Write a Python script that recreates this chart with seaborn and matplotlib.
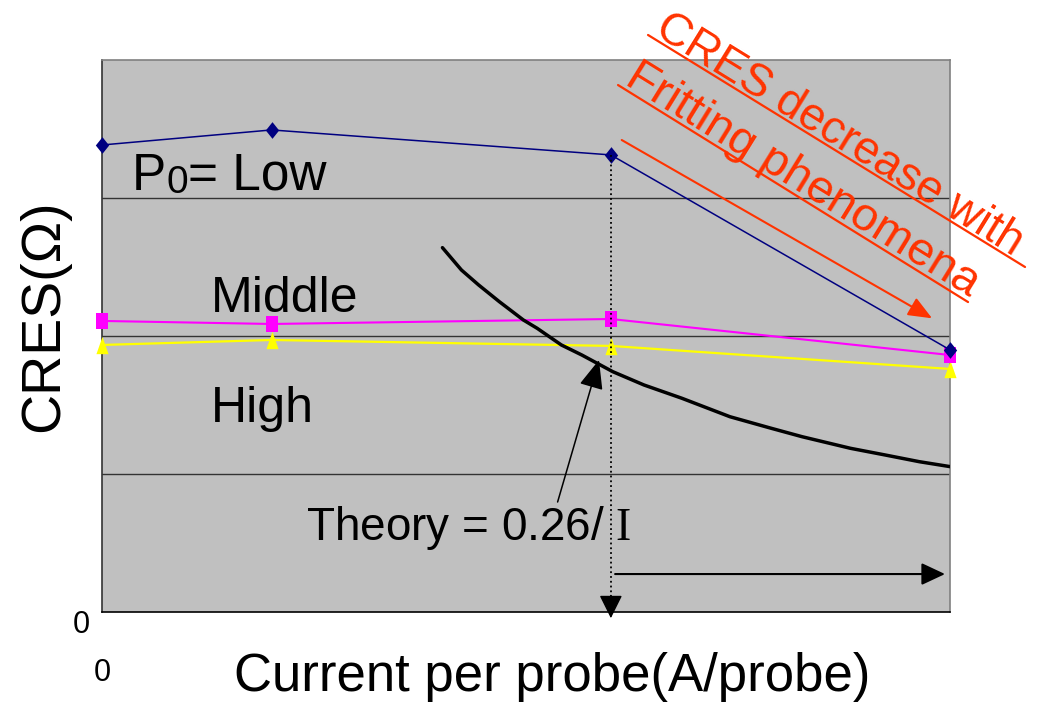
import matplotlib
matplotlib.use("Agg")
import matplotlib.pyplot as plt
import seaborn as sns
import pandas as pd
from matplotlib.lines import Line2D
from matplotlib.transforms import ScaledTranslation

# ---- data (x in tick units, y in gridline units) ----
x_points = [0, 1, 3, 5]
low_vals = [3.384, 3.493, 3.312, 1.899]
middle_vals = [2.109, 2.087, 2.123, 1.862]
high_vals = [1.935, 1.971, 1.928, 1.761]

theory_x = [2.007, 2.119, 2.220, 2.342, 2.484, 2.565, 2.708, 2.829, 3.012,
            3.195, 3.418, 3.702, 3.946, 4.128, 4.413, 4.616, 4.819, 5.002]
theory_y = [2.640, 2.478, 2.370, 2.249, 2.116, 2.056, 1.935, 1.862, 1.741,
            1.645, 1.549, 1.415, 1.331, 1.270, 1.186, 1.138, 1.089, 1.053]

x_ticks = [0, 1, 2, 3, 4, 5]
x_ticklabels = ["0", "", "", "", "", ""]
y_ticks = [0, 1, 2, 3, 4]
y_ticklabels = ["0", "", "", "", ""]

sns.set_style("white")
plt.rcParams["font.family"] = ["Liberation Sans", "DejaVu Sans"]
plt.rcParams["text.color"] = "black"
plt.rcParams["axes.labelcolor"] = "black"
plt.rcParams["xtick.color"] = "black"
plt.rcParams["ytick.color"] = "black"
plt.rcParams["mathtext.fontset"] = "custom"
plt.rcParams["mathtext.rm"] = "Liberation Serif"

fig = plt.figure(figsize=(10.38, 7.08), dpi=100)
ax = fig.add_axes([0.0983, 0.1356, 0.8170, 0.7797])
ax.set_facecolor("#C0C0C0")
ax.set_xlim(0, 5)
ax.set_ylim(0, 4)

for g in [1, 2, 3]:
    ax.axhline(g, color="#333333", lw=1.0, zorder=1)

diamond = [(0, 1), (0.8, 0), (0, -1), (-0.8, 0)]
rect = [(-0.8, -1), (0.8, -1), (0.8, 1), (-0.8, 1)]
tri = [(0, 1), (0.7, -1), (-0.7, -1)]

df_low = pd.DataFrame({"x": x_points, "y": low_vals})
df_mid = pd.DataFrame({"x": x_points, "y": middle_vals})
df_high = pd.DataFrame({"x": x_points, "y": high_vals})
df_th = pd.DataFrame({"x": theory_x, "y": theory_y})

sns.lineplot(data=df_high, x="x", y="y", ax=ax, color="#FFFF00", lw=1.6,
             marker=tri, markersize=12.5, markeredgewidth=0, sort=False,
             zorder=3, clip_on=False)
sns.lineplot(data=df_mid, x="x", y="y", ax=ax, color="#FF00FF", lw=1.5,
             marker=rect, markersize=11, markeredgewidth=0, sort=False,
             zorder=3, clip_on=False)
sns.lineplot(data=df_low, x="x", y="y", ax=ax, color="#000080", lw=1.1,
             marker=diamond, markersize=12, markeredgewidth=0, sort=False,
             zorder=3, clip_on=False)
sns.lineplot(data=df_th, x="x", y="y", ax=ax, color="black", lw=2.5,
             sort=False, zorder=4)

# dotted drop line from the Low point at x=3 with arrow head
ax.plot([x_points[2], x_points[2]], [low_vals[2], 0.05], ls=":", color="black",
        lw=1.3, zorder=5, clip_on=False)
ax.annotate("", xy=(3, -0.045), xytext=(3, 0.12),
            arrowprops=dict(arrowstyle="-|>,head_length=1.45,head_width=0.72",
                            mutation_scale=10, color="black", lw=1,
                            shrinkA=0, shrinkB=0),
            annotation_clip=False, zorder=6)

# horizontal arrow
ax.annotate("", xy=(4.97, 0.275), xytext=(3.025, 0.275),
            arrowprops=dict(arrowstyle="-|>,head_length=1.45,head_width=0.68",
                            mutation_scale=10, color="black", lw=1.5,
                            shrinkA=0, shrinkB=0), zorder=6)

# theory arrow
ax.annotate("", xy=(2.930, 1.826), xytext=(2.686, 0.797),
            arrowprops=dict(arrowstyle="-|>,head_length=1.8,head_width=0.75",
                            mutation_scale=10, color="black", lw=1.1,
                            shrinkA=0, shrinkB=0), zorder=6)

# red arrow
red = "#FF3300"
ax.annotate("", xy=(4.894, 2.128), xytext=(3.064, 3.420),
            arrowprops=dict(arrowstyle="-|>,head_length=1.45,head_width=0.6",
                            mutation_scale=10, color=red, lw=1.5,
                            shrinkA=0, shrinkB=0), zorder=6)

# series labels
t1 = ax.text(0.177, 3.058, "P", fontsize=37, ha="left", va="baseline", zorder=7)
t2 = ax.annotate("0", xy=(1, 0), xycoords=t1, fontsize=28, ha="left",
                 va="bottom", zorder=7)
t3 = ax.annotate("= Low", xy=(1, 0), xycoords=t2, fontsize=37, ha="left",
                 va="bottom", zorder=7)
ax.text(0.643, 2.174, "Middle", fontsize=36, ha="left", va="baseline", zorder=7)
ax.text(0.643, 1.377, "High", fontsize=36, ha="left", va="baseline", zorder=7)
ax.text(1.203, 0.522, r"Theory = 0.26/ $\mathrm{I}$", fontsize=33, ha="left",
        va="baseline", zorder=7)

# red rotated note with underlines
ang = -31.7
fig.text(0.6290, 0.9520, "CRES decrease with", fontsize=33, color=red,
         rotation=ang, rotation_mode="anchor", ha="left", va="baseline")
fig.text(0.6002, 0.8820, "Fritting phenomena", fontsize=34, color=red,
         rotation=ang, rotation_mode="anchor", ha="left", va="baseline")
fig.add_artist(Line2D([0.6243, 0.9875], [0.9506, 0.6229], color=red, lw=1.6,
                      transform=fig.transFigure))
fig.add_artist(Line2D([0.5954, 0.9326], [0.8799, 0.5734], color=red, lw=1.6,
                      transform=fig.transFigure))

# axes styling
ax.set_xticks(x_ticks)
ax.set_xticklabels(x_ticklabels)
ax.set_yticks(y_ticks)
ax.set_yticklabels(y_ticklabels)
ax.tick_params(axis="x", direction="in", length=8, width=1, labelsize=22,
               pad=33, color="#333333")
ax.tick_params(axis="y", direction="in", length=6, width=1, labelsize=22,
               pad=8.6, color="#333333")
for lab in ax.get_yticklabels():
    lab.set_transform(lab.get_transform() +
                      ScaledTranslation(0, -0.1, fig.dpi_scale_trans))

ax.spines["left"].set_color("#333333")
ax.spines["bottom"].set_color("black")
ax.spines["top"].set_color("#808080")
ax.spines["right"].set_color("#808080")
for s in ax.spines.values():
    s.set_linewidth(1.2)
    s.set_visible(True)

ax.set_xlabel("Current per probe(A/probe)", fontsize=38)
ax.xaxis.set_label_coords(0.531, -0.0725)
ax.set_ylabel("CRES(Ω)", fontsize=40)
ax.yaxis.set_label_coords(-0.0377, 0.536)

fig.savefig("out.png", dpi=100)
